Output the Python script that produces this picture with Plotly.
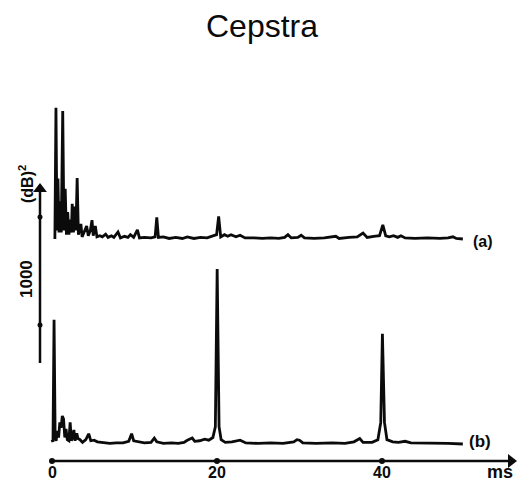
import plotly.graph_objects as go

# ---------------- data ----------------
# quefrency in ms, cepstral magnitude in (dB)^2 above each trace's own baseline
A_MS = [0.35, 0.48, 0.6, 0.72, 0.85, 1.0, 1.12, 1.3, 1.45, 1.6, 1.75, 1.9, 2.05, 2.2, 2.35,
        2.45, 2.6, 2.75, 2.9, 3.05, 3.2, 3.35, 3.5, 3.65, 3.9, 4.2, 4.4, 4.65, 4.85, 5.0,
        5.25, 5.45, 5.8, 6.1, 6.5, 6.8, 7.2, 7.5, 8.0, 8.3, 8.8, 9.2, 9.5, 9.9, 10.35,
        10.6, 11.2, 12.0, 12.5, 12.7, 12.9, 13.5, 14.2, 15.0, 15.8, 16.4, 17.2, 18.0, 18.8,
        19.5, 19.95, 20.2, 20.45, 20.9, 21.3, 21.7, 22.3, 22.8, 23.4, 24.5, 25.5, 26.5, 27.5,
        28.2, 28.6, 29.0, 29.8, 30.2, 30.6, 31.8, 33.0, 34.4, 34.8, 36.0, 37.0, 37.7, 38.2,
        39.0, 39.7, 40.1, 40.45, 40.9, 41.4, 41.9, 42.3, 42.8, 44.0, 45.5, 47.0, 48.0, 48.6,
        49.0, 49.8]
A_VAL = [0, 1215, 80, 560, 60, 350, 60, 1185, 80, 465, 40, 250, 40, 180, 60,
         325, 60, 300, 80, 565, 40, 90, 140, 20, 60, 120, 30, 80, 175, 30,
         120, 20, 30, 20, 45, 15, 30, 15, 65, 10, 25, 15, 40, 15, 85,
         10, 15, 10, 20, 200, 15, 20, 5, 15, 5, 20, 5, 15, 10,
         25, 40, 210, 20, 40, 25, 40, 20, 35, 10, 10, 5, 10, 5,
         15, 40, 10, 15, 35, 10, 5, 10, 25, 5, 15, 20, 55, 15,
         25, 30, 130, 30, 20, 30, 15, 30, 10, 5, 10, 5, 10, 20,
         5, 0]

B_MS = [0.0, 0.12, 0.25, 0.38, 0.5, 0.65, 0.8, 0.95, 1.1, 1.25, 1.4, 1.55, 1.7, 1.85, 2.05,
        2.2, 2.35, 2.5, 2.65, 2.8, 3.0, 3.15, 3.4, 3.7, 4.1, 4.45, 4.7, 5.1, 5.5, 6.2,
        7.0, 7.8, 8.6, 9.3, 9.65, 9.9, 10.4, 11.2, 12.0, 12.4, 12.7, 13.5, 14.5, 15.3, 16.0,
        16.4, 17.0, 17.3, 17.9, 18.5, 19.0, 19.5, 19.8, 20.02, 20.25, 20.5, 21.0, 21.8, 22.8,
        23.5, 25.0, 26.5, 28.0, 29.3, 29.7, 30.0, 30.4, 32.0, 34.0, 35.5, 36.6, 37.3, 37.7,
        38.8, 39.5, 39.85, 40.05, 40.3, 40.6, 41.3, 42.0, 42.8, 43.5, 45.0, 46.5, 48.0, 49.8]
B_VAL = [40, 20, 1150, 60, 30, 120, 60, 200, 150, 260, 230, 60, 140, 40, 30,
         200, 30, 60, 130, 30, 100, 50, 40, 15, 40, 95, 30, 35, 20, 15,
         5, 10, 10, 25, 95, 30, 25, 10, 15, 55, 20, 5, 10, 5, 15,
         35, 55, 25, 30, 45, 35, 60, 160, 1620, 160, 40, 15, 20, 35,
         10, 5, 10, 5, 20, 40, 35, 10, 5, 10, 5, 20, 50, 15,
         15, 40, 200, 1020, 200, 40, 20, 15, 25, 10, 10, 5, 5, 0]

SERIES_LABELS = ["(a)", "(b)"]
X_TICKS = [0, 20, 40]
X_TICK_LABELS = ["0", "20", "40"]
X_UNIT = "ms"
Y_UNIT = "(dB)<sup>2</sup>"
SCALE_BAR = [1000, 2000]       # 1000 (dB)^2 scale bar (tick values)
SCALE_LABEL = "1000"
TITLE = "Cepstra"

# ---------------- layout helpers ----------------
W, H = 518, 483
X0_PX, PX_PER_MS = 52.0, 8.25
B_BASE_PX, PX_PER_UNIT = 444.0, 0.108
OFFSET_A = (444.0 - 239.0) / PX_PER_UNIT     # vertical stacking offset of trace (a)
SCALE_SHIFT = (444.0 - 325.0) / PX_PER_UNIT - SCALE_BAR[0]


def ms_at(px):
    return (px - X0_PX) / PX_PER_MS


def val_at(py):
    return (B_BASE_PX - py) / PX_PER_UNIT


INK = "#0b0b0b"
FONT = "Liberation Sans, Arial, Helvetica, sans-serif"

fig = go.Figure()
fig.add_trace(go.Scatter(x=A_MS, y=[v + OFFSET_A for v in A_VAL], mode="lines",
                         line=dict(color=INK, width=2.8), name=SERIES_LABELS[0],
                         hoverinfo="skip"))
fig.add_trace(go.Scatter(x=B_MS, y=B_VAL, mode="lines",
                         line=dict(color=INK, width=2.8), name=SERIES_LABELS[1],
                         hoverinfo="skip"))

x_axis_v = val_at(461)
y_bar_ms = ms_at(40)

# x axis line with arrow head
fig.add_trace(go.Scatter(x=[ms_at(50), ms_at(510)], y=[x_axis_v, x_axis_v], mode="lines",
                         line=dict(color=INK, width=2.5), hoverinfo="skip"))
fig.add_trace(go.Scatter(x=[ms_at(511)], y=[x_axis_v], mode="markers",
                         marker=dict(color=INK, size=12, symbol="triangle-right"),
                         hoverinfo="skip"))
# y scale bar with arrow head
fig.add_trace(go.Scatter(x=[y_bar_ms, y_bar_ms], y=[val_at(363), val_at(190)], mode="lines",
                         line=dict(color=INK, width=2.5), hoverinfo="skip"))
fig.add_trace(go.Scatter(x=[y_bar_ms], y=[val_at(189)], mode="markers",
                         marker=dict(color=INK, size=12, symbol="triangle-up"),
                         hoverinfo="skip"))
# tick dots
fig.add_trace(go.Scatter(x=X_TICKS, y=[x_axis_v] * len(X_TICKS), mode="markers",
                         marker=dict(color=INK, size=6), hoverinfo="skip"))
fig.add_trace(go.Scatter(x=[y_bar_ms] * 2, y=[s + SCALE_SHIFT for s in SCALE_BAR],
                         mode="markers", marker=dict(color=INK, size=5),
                         hoverinfo="skip"))

ann = []
for t, lab in zip(X_TICKS, X_TICK_LABELS):
    ann.append(dict(x=t, y=val_at(472), text=f"<b>{lab}</b>", showarrow=False,
                    xanchor="center", yanchor="middle",
                    font=dict(family=FONT, size=16, color=INK)))
ann.append(dict(x=ms_at(500), y=val_at(472), text=f"<b>{X_UNIT}</b>", showarrow=False,
                xanchor="center", yanchor="middle", font=dict(family=FONT, size=18, color=INK)))
ann.append(dict(x=ms_at(483), y=val_at(241), text=f"<b>{SERIES_LABELS[0]}</b>", showarrow=False,
                xanchor="center", yanchor="middle", font=dict(family=FONT, size=16, color=INK)))
ann.append(dict(x=ms_at(480), y=val_at(441), text=f"<b>{SERIES_LABELS[1]}</b>", showarrow=False,
                xanchor="center", yanchor="middle", font=dict(family=FONT, size=17, color=INK)))
ann.append(dict(x=ms_at(26), y=val_at(279), text=f"<b>{SCALE_LABEL}</b>", showarrow=False,
                textangle=-90, xanchor="center", yanchor="middle",
                font=dict(family=FONT, size=17, color=INK)))
ann.append(dict(x=ms_at(26), y=val_at(184), text=f"<b>{Y_UNIT}</b>", showarrow=False,
                textangle=-90, xanchor="center", yanchor="middle",
                font=dict(family=FONT, size=16, color=INK)))

fig.update_layout(
    width=W, height=H,
    margin=dict(l=0, r=0, t=0, b=0),
    paper_bgcolor="white", plot_bgcolor="white",
    showlegend=False,
    title=dict(text=TITLE, x=262 / W, y=1 - 26 / H, xanchor="center", yanchor="middle",
               font=dict(family=FONT, size=32, color=INK)),
    xaxis=dict(range=[ms_at(0), ms_at(W)], visible=False, fixedrange=True),
    yaxis=dict(range=[val_at(H), val_at(0)], visible=False, fixedrange=True),
    annotations=ann,
)

fig.write_html("out.html")
